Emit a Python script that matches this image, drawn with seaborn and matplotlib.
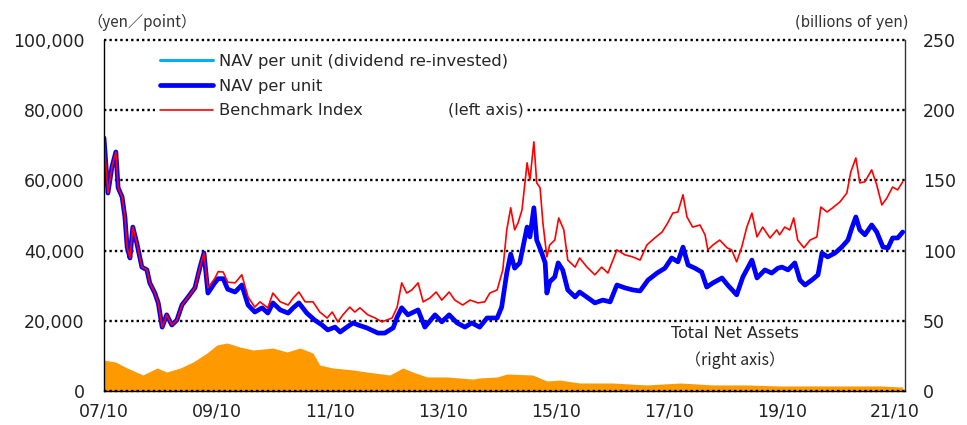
import matplotlib
matplotlib.use("Agg")
import matplotlib.pyplot as plt
import seaborn as sns
import pandas as pd

# ---------------- data (decimal years, values) ----------------
nav_t = [2007.75, 2007.82, 2007.89, 2007.96, 2008.00, 2008.07, 2008.12, 2008.16, 2008.21, 2008.26,
         2008.33, 2008.42, 2008.51, 2008.56, 2008.65, 2008.71, 2008.78, 2008.86, 2008.95, 2009.04,
         2009.13, 2009.24, 2009.36, 2009.45, 2009.52, 2009.59, 2009.71, 2009.77, 2009.86, 2009.94,
         2010.07, 2010.19, 2010.30, 2010.42, 2010.55, 2010.65, 2010.74, 2010.87, 2011.01, 2011.10,
         2011.20, 2011.34, 2011.48, 2011.61, 2011.71, 2011.84, 2011.93, 2012.05, 2012.16, 2012.25,
         2012.40, 2012.60, 2012.72, 2012.87, 2012.94, 2013.02, 2013.13, 2013.31, 2013.43, 2013.61,
         2013.73, 2013.86, 2014.00, 2014.14, 2014.26, 2014.40, 2014.53, 2014.71, 2014.79, 2014.88,
         2014.95, 2015.02, 2015.11, 2015.24, 2015.29, 2015.36, 2015.41, 2015.50, 2015.56, 2015.59,
         2015.64, 2015.73, 2015.79, 2015.87, 2015.96, 2016.09, 2016.17, 2016.32, 2016.44, 2016.58,
         2016.71, 2016.83, 2016.97, 2017.11, 2017.24, 2017.38, 2017.54, 2017.68, 2017.80, 2017.91,
         2018.00, 2018.09, 2018.21, 2018.33, 2018.42, 2018.53, 2018.69, 2018.79, 2018.95, 2019.06,
         2019.22, 2019.31, 2019.45, 2019.57, 2019.68, 2019.75, 2019.86, 2019.98, 2020.07, 2020.16,
         2020.28, 2020.39, 2020.46, 2020.56, 2020.69, 2020.81, 2020.92, 2020.99, 2021.06, 2021.13,
         2021.22, 2021.34, 2021.43, 2021.54, 2021.63, 2021.71, 2021.80, 2021.89]
nav_v = [72100, 56400, 63800, 68100, 57900, 55300, 49600, 41000, 37900, 46700,
         42200, 35300, 34500, 30800, 27900, 25100, 18200, 21700, 18800, 20200,
         24500, 26800, 29400, 35300, 39300, 27900, 30800, 32000, 32000, 29000,
         28200, 30200, 24500, 22500, 23700, 22200, 25100, 23100, 22200, 23700,
         25100, 22200, 20200, 18800, 17400, 18200, 16800, 18200, 19400, 18800,
         18000, 16500, 16500, 18000, 21100, 23700, 21700, 23100, 18200, 21700,
         19700, 21700, 19400, 18200, 19400, 18200, 20800, 20800, 23900, 33600,
         39000, 35000, 36500, 46700, 43900, 52200, 43000, 39300, 36500, 27900,
         31100, 32500, 36500, 34500, 28800, 26800, 28200, 26500, 25100, 25900,
         25400, 30200, 29400, 28800, 28500, 31600, 33600, 35000, 37900, 36800,
         41000, 35900, 35000, 33900, 29600, 30800, 32200, 30200, 27400, 32500,
         37300, 32200, 34500, 33600, 35000, 35300, 34500, 36500, 31600, 30200,
         31600, 33100, 39300, 38200, 39300, 41000, 43000, 46500, 49600, 45900,
         44500, 47300, 45300, 41000, 40800, 43600, 43600, 45300]
# no distributions: the dividend re-invested NAV coincides with the NAV
nav_reinv_v = list(nav_v)

bench_t = [2007.75, 2007.82, 2007.89, 2007.96, 2008.00, 2008.07, 2008.12, 2008.16, 2008.21, 2008.26,
           2008.33, 2008.42, 2008.51, 2008.56, 2008.65, 2008.71, 2008.78, 2008.86, 2008.95, 2009.04,
           2009.13, 2009.24, 2009.36, 2009.45, 2009.52, 2009.59, 2009.71, 2009.77, 2009.86, 2009.94,
           2010.07, 2010.19, 2010.30, 2010.42, 2010.51, 2010.65, 2010.74, 2010.87, 2011.01, 2011.10,
           2011.20, 2011.31, 2011.45, 2011.57, 2011.70, 2011.79, 2011.89, 2011.98, 2012.10, 2012.19,
           2012.28, 2012.42, 2012.55, 2012.67, 2012.85, 2012.94, 2013.02, 2013.11, 2013.20, 2013.31,
           2013.40, 2013.52, 2013.63, 2013.73, 2013.86, 2013.96, 2014.10, 2014.23, 2014.37, 2014.49,
           2014.58, 2014.71, 2014.81, 2014.88, 2014.95, 2015.02, 2015.08, 2015.15, 2015.24, 2015.29,
           2015.36, 2015.41, 2015.47, 2015.52, 2015.59, 2015.64, 2015.73, 2015.80, 2015.89, 2015.96,
           2016.09, 2016.17, 2016.30, 2016.44, 2016.56, 2016.67, 2016.83, 2016.97, 2017.11, 2017.24,
           2017.36, 2017.50, 2017.63, 2017.73, 2017.82, 2017.91, 2018.00, 2018.07, 2018.17, 2018.30,
           2018.39, 2018.44, 2018.53, 2018.65, 2018.78, 2018.86, 2018.95, 2019.04, 2019.13, 2019.22,
           2019.31, 2019.41, 2019.54, 2019.66, 2019.71, 2019.80, 2019.89, 2019.96, 2020.03, 2020.14,
           2020.25, 2020.37, 2020.44, 2020.55, 2020.65, 2020.78, 2020.90, 2020.97, 2021.06, 2021.13,
           2021.22, 2021.34, 2021.43, 2021.52, 2021.61, 2021.71, 2021.80, 2021.89]
bench_v = [72100, 56400, 63800, 68100, 57900, 55300, 49600, 41000, 37900, 46700,
           42200, 35300, 34500, 30800, 27900, 25100, 18200, 21700, 18800, 20200,
           24500, 26800, 29400, 35300, 39300, 29400, 32000, 34000, 33900, 31000,
           30800, 33100, 26800, 23900, 25400, 23700, 27900, 25400, 24500, 26500,
           28200, 25400, 25400, 22500, 20800, 22500, 19700, 21700, 23900, 22500,
           23700, 21700, 20800, 19700, 20800, 23900, 30800, 27900, 28800, 30800,
           25400, 26500, 28200, 25900, 28200, 25900, 24500, 25900, 25100, 25400,
           27900, 28800, 34500, 45900, 52200, 45900, 47900, 51600, 65000, 60100,
           71000, 59300, 57900, 47900, 38200, 41600, 43000, 49300, 45900, 37300,
           35300, 37900, 35300, 33100, 35300, 33600, 40200, 38800, 38200, 37300,
           41600, 43600, 45300, 47900, 50700, 51000, 55900, 49600, 46700, 47300,
           44500, 40200, 41600, 43000, 40800, 40200, 36800, 41000, 46700, 50700,
           43900, 46700, 43600, 45900, 44500, 46700, 45900, 49300, 43000, 40800,
           43000, 43900, 52400, 51000, 52200, 53900, 56400, 62400, 66400, 59300,
           59600, 63000, 58700, 53000, 55000, 58100, 57300, 59600]

tna_t = [2007.75, 2007.95, 2008.16, 2008.44, 2008.69, 2008.86, 2009.10, 2009.33, 2009.57, 2009.75,
         2009.93, 2010.16, 2010.39, 2010.74, 2010.99, 2011.22, 2011.45, 2011.57, 2011.80, 2012.16,
         2012.40, 2012.81, 2013.04, 2013.22, 2013.47, 2013.82, 2014.28, 2014.40, 2014.71, 2014.88,
         2015.34, 2015.59, 2015.82, 2016.17, 2016.76, 2017.36, 2017.95, 2018.53, 2019.13, 2019.71,
         2020.30, 2020.90, 2021.49, 2021.89]
tna_v = [22.0, 20.7, 16.4, 11.4, 16.4, 13.5, 16.4, 20.7, 27.0, 32.8,
         34.2, 31.3, 29.2, 30.6, 27.8, 30.6, 27.0, 18.5, 16.4, 15.0,
         13.5, 11.4, 16.4, 13.5, 10.0, 10.0, 8.5, 9.3, 10.0, 12.1,
         11.4, 7.1, 7.8, 5.7, 5.7, 4.3, 5.7, 4.3, 4.3, 3.6,
         3.6, 3.6, 3.6, 2.8]

xtick_pos = [2007.75, 2009.75, 2011.75, 2013.75, 2015.75, 2017.75, 2019.75, 2021.75]
xtick_labels = ["07/10", "09/10", "11/10", "13/10", "15/10", "17/10", "19/10", "21/10"]
left_ticks = [0, 20000, 40000, 60000, 80000, 100000]
right_ticks = [0, 50, 100, 150, 200, 250]

# ---------------- style ----------------
sns.set_style("white")
plt.rcParams["font.family"] = ["DejaVu Sans", "Noto Sans CJK JP"]
FAM_CJK = ["Noto Sans CJK JP", "DejaVu Sans"]

df_nav = pd.DataFrame({"t": nav_t, "v": nav_v})
df_reinv = pd.DataFrame({"t": nav_t, "v": nav_reinv_v})
df_bench = pd.DataFrame({"t": bench_t, "v": bench_v})

fig = plt.figure(figsize=(9.67, 4.25), dpi=100)
ax = fig.add_axes([104 / 967, 1 - 391 / 425, (905 - 104) / 967, (391 - 40) / 425])
ax2 = ax.twinx()
ax.set_zorder(ax2.get_zorder() + 1)
ax.patch.set_visible(False)

# total net assets (right axis)
ax2.fill_between(tna_t, tna_v, 0, color="#FF9900", linewidth=0)
ax2.set_ylim(0, 250)
ax2.set_yticks(right_ticks)
ax2.set_yticklabels([str(v) for v in right_ticks])
ax2.tick_params(axis="y", length=0, pad=13, labelsize=12.5, labelcolor="#222222")
for s in ["top", "left", "bottom"]:
    ax2.spines[s].set_visible(False)
ax2.spines["right"].set_color("#333333")
ax2.spines["right"].set_linewidth(1.0)

# lines (left axis)
sns.lineplot(data=df_reinv, x="t", y="v", ax=ax, color="#00B0F0", linewidth=2.2,
             estimator=None, label="NAV per unit (dividend re-invested)")
sns.lineplot(data=df_nav, x="t", y="v", ax=ax, color="#0000FF", linewidth=3.4,
             estimator=None, label="NAV per unit")
sns.lineplot(data=df_bench, x="t", y="v", ax=ax, color="#FF0000", linewidth=1.2,
             estimator=None, label="Benchmark Index")

ax.set_xlim(2007.75, 2021.93)
ax.set_ylim(0, 100000)
ax.set_xlabel("")
ax.set_ylabel("")
ax.set_yticks(left_ticks)
ax.set_yticklabels([f"{v:,}" for v in left_ticks])
ax.set_xticks(xtick_pos)
ax.set_xticklabels(xtick_labels)
ax.tick_params(axis="y", length=0, pad=14, labelsize=12.5, labelcolor="#222222")
ax.tick_params(axis="x", direction="in", length=5, width=1, color="black", pad=8,
               labelsize=12.5, labelcolor="#222222")
ax.yaxis.grid(True, linestyle=(0, (1, 1.3)), color="black", linewidth=1.7)
ax.xaxis.grid(False)
for gl in ax.get_ygridlines():
    gl.set_clip_on(False)
for s in ["top", "right"]:
    ax.spines[s].set_visible(False)
for s in ["left", "bottom"]:
    ax.spines[s].set_color("black")
    ax.spines[s].set_linewidth(1.0)

h, l = ax.get_legend_handles_labels()
leg = ax.legend(h, l, loc="upper left", bbox_to_anchor=(0.064, 0.975), fontsize=11.8,
                frameon=True, facecolor="white", edgecolor="none", framealpha=1,
                fancybox=False, handlelength=3.2, handletextpad=0.4, labelspacing=0.6,
                borderpad=0.3, borderaxespad=0)
leg.set_zorder(5)

ax.text(0.477, 0.80, "(left axis)", transform=ax.transAxes, ha="center", va="center",
        fontsize=11.5, bbox=dict(facecolor="white", edgecolor="none", pad=2), zorder=6)
ax.text(0.788, 0.165, "Total Net Assets", transform=ax.transAxes, ha="center", va="center",
        fontsize=11.5)
ax.text(0.788, 0.088, "（right axis）", transform=ax.transAxes, ha="center", va="center",
        fontsize=11.5, family=FAM_CJK)

fig.text(142 / 967, 1 - 22 / 425, "（yen／point）", ha="center", va="center", fontsize=11,
         family=FAM_CJK, color="#333333")
fig.text(908 / 967, 1 - 22 / 425, "(billions of yen)", ha="right", va="center", fontsize=10.5,
         color="#333333")

fig.savefig("out.png", dpi=100, facecolor="white")
